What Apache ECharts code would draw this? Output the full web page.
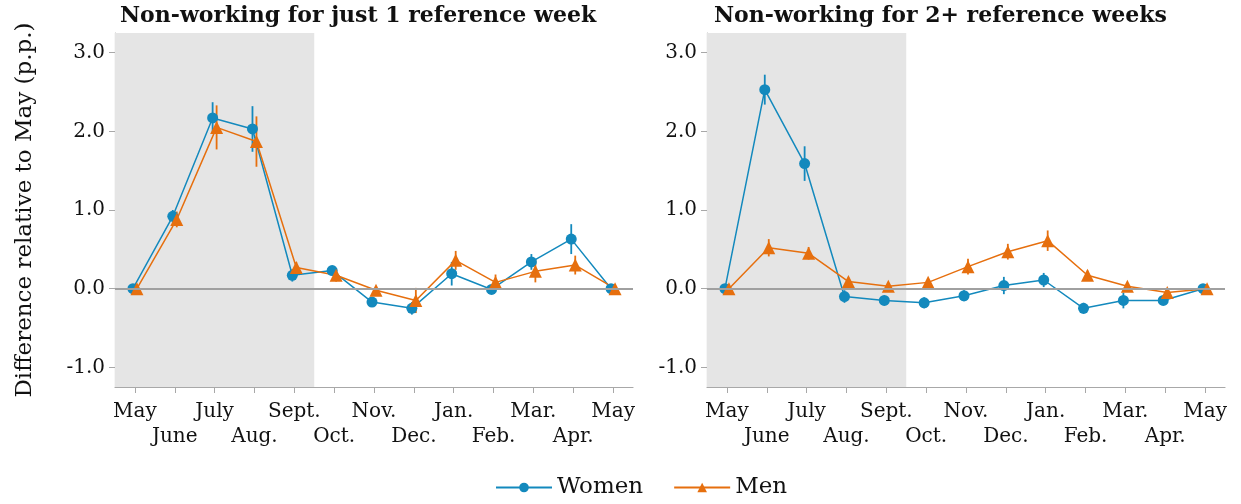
<!DOCTYPE html>
<html>
<head>
<meta charset="utf-8">
<script src="https://cdn.jsdelivr.net/npm/echarts@6/dist/echarts.min.js"></script>
<style>
  html, body { margin: 0; padding: 0; background: #fff; }
  #chart { width: 1241px; height: 504px; }
</style>
</head>
<body>
<div id="chart"></div>
<script>
const months = ["May", "June", "July", "Aug.", "Sept.", "Oct.", "Nov.", "Dec.", "Jan.", "Feb.", "Mar.", "Apr.", "May"];
const yTicks = [-1, 0, 1, 2, 3];

// panel 1: non-working for just 1 reference week
const women1 = [0, 0.92, 2.17, 2.03, 0.17, 0.23, -0.17, -0.25, 0.19, -0.01, 0.34, 0.63, 0];
const women1Err = [0, 0.08, 0.2, 0.29, 0.08, 0.05, 0.05, 0.08, 0.15, 0.05, 0.1, 0.19, 0];
const men1 = [0, 0.88, 2.05, 1.87, 0.27, 0.17, -0.02, -0.15, 0.36, 0.08, 0.22, 0.30, 0];
const men1Err = [0, 0.1, 0.28, 0.32, 0.07, 0.08, 0.05, 0.16, 0.12, 0.1, 0.14, 0.12, 0];

// panel 2: non-working for 2+ reference weeks
const women2 = [0, 2.53, 1.59, -0.10, -0.15, -0.18, -0.09, 0.04, 0.11, -0.25, -0.15, -0.15, 0];
const women2Err = [0, 0.19, 0.22, 0.08, 0.06, 0.07, 0.07, 0.11, 0.09, 0.07, 0.1, 0.05, 0];
const men2 = [0, 0.52, 0.45, 0.09, 0.03, 0.08, 0.28, 0.47, 0.61, 0.17, 0.03, -0.05, 0];
const men2Err = [0, 0.11, 0.08, 0.05, 0.04, 0.05, 0.1, 0.1, 0.13, 0.06, 0.04, 0.04, 0];

const shadeFrom = -0.5, shadeTo = 4.5;
const dodge = 0.05;

const blue = "#1389bd";
const orange = "#e66f0e";
const axisGray = "#a8a8a8";
const font = "DejaVu Serif";

function pts(vals, off) {
  return vals.map((v, i) => [i + off, v]);
}
function bars(vals, errs, off) {
  return vals.map((v, i) => [i + off, v - errs[i], v + errs[i]]);
}
function errSeries(data, color, idx) {
  return {
    type: "custom",
    xAxisIndex: idx, yAxisIndex: idx,
    silent: true,
    z: 3,
    encode: { x: 0, y: [1, 2] },
    data: data,
    renderItem: function (params, api) {
      const a = api.coord([api.value(0), api.value(1)]);
      const b = api.coord([api.value(0), api.value(2)]);
      return {
        type: "line",
        shape: { x1: a[0], y1: a[1], x2: b[0], y2: b[1] },
        style: { stroke: color, lineWidth: 1.8 }
      };
    }
  };
}

const grids = [
  { left: 115, width: 518, top: 33, height: 354 },
  { left: 707, width: 518, top: 33, height: 354 }
];

// hidden value axis carries the data, a category axis draws month ticks and labels
function dataXAxis(idx) {
  return {
    type: "value",
    gridIndex: idx,
    min: -0.5,
    max: 12.5,
    show: false,
    splitLine: { show: false }
  };
}
function monthXAxis(idx) {
  return {
    type: "category",
    gridIndex: idx,
    data: months,
    boundaryGap: true,
    position: "bottom",
    splitLine: { show: false },
    axisLine: { show: true, onZero: false, lineStyle: { color: axisGray, width: 1.2 } },
    axisTick: { show: true, alignWithLabel: true, interval: 0, length: 6, lineStyle: { color: axisGray } },
    axisLabel: {
      interval: 0,
      color: "#111",
      fontFamily: font,
      fontSize: 20,
      lineHeight: 25,
      margin: 12,
      formatter: function (v, i) {
        return i % 2 === 0 ? v : "\n" + v;
      }
    }
  };
}
function yAxisFor(idx) {
  const ax = {
    type: "value",
    gridIndex: idx,
    min: -1.25,
    max: 3.25,
    splitLine: { show: false },
    axisLine: { show: true, onZero: false, lineStyle: { color: axisGray, width: 1.2 } },
    axisTick: { show: true, customValues: yTicks, length: 6, lineStyle: { color: axisGray } },
    axisLabel: {
      customValues: yTicks,
      color: "#111",
      fontFamily: font,
      fontSize: 20,
      margin: 10,
      formatter: function (v) { return v.toFixed(1); }
    }
  };
  if (idx === 0) {
    ax.name = "Difference relative to May (p.p.)";
    ax.nameLocation = "middle";
    ax.nameGap = 78;
    ax.nameTextStyle = { color: "#111", fontFamily: font, fontSize: 23 };
  }
  return ax;
}

function backSeries(idx) {
  return {
    type: "line",
    xAxisIndex: idx, yAxisIndex: idx,
    data: [],
    silent: true,
    z: 1,
    markArea: {
      silent: true,
      itemStyle: { color: "#e5e5e5" },
      data: [[{ xAxis: shadeFrom }, { xAxis: shadeTo }]]
    },
    markLine: {
      silent: true,
      symbol: "none",
      label: { show: false },
      lineStyle: { color: "#a0a0a0", width: 2, type: "solid" },
      data: [{ yAxis: 0 }]
    }
  };
}

function lineSeries(name, data, color, symbol, size, idx) {
  return {
    name: name,
    type: "line",
    xAxisIndex: idx, yAxisIndex: idx,
    data: data,
    symbol: symbol,
    symbolSize: size,
    z: 4,
    lineStyle: { color: color, width: 1.5 },
    itemStyle: { color: color },
    emphasis: { disabled: true }
  };
}

const option = {
  animation: false,
  backgroundColor: "#fff",
  title: [
    { text: "Non-working for just 1 reference week", left: 115, top: 0,
      textStyle: { fontFamily: font, fontWeight: "bold", fontSize: 22, color: "#111" } },
    { text: "Non-working for 2+ reference weeks", left: 709, top: 0,
      textStyle: { fontFamily: font, fontWeight: "bold", fontSize: 22, color: "#111" } }
  ],
  legend: {
    bottom: 0,
    left: 490,
    itemWidth: 56,
    itemHeight: 12,
    itemGap: 30,
    textStyle: { fontFamily: font, fontSize: 23, color: "#111" },
    data: ["Women", "Men"]
  },
  grid: grids,
  xAxis: [dataXAxis(0), dataXAxis(1), monthXAxis(0), monthXAxis(1)],
  yAxis: [yAxisFor(0), yAxisFor(1)],
  series: [
    backSeries(0),
    backSeries(1),
    errSeries(bars(women1, women1Err, -dodge), blue, 0),
    errSeries(bars(men1, men1Err, dodge), orange, 0),
    errSeries(bars(women2, women2Err, -dodge), blue, 1),
    errSeries(bars(men2, men2Err, dodge), orange, 1),
    lineSeries("Women", pts(women1, -dodge), blue, "circle", 11, 0),
    lineSeries("Men", pts(men1, dodge), orange, "triangle", 13, 0),
    lineSeries("Women", pts(women2, -dodge), blue, "circle", 11, 1),
    lineSeries("Men", pts(men2, dodge), orange, "triangle", 13, 1)
  ]
};

const myChart = echarts.init(document.getElementById("chart"));
myChart.setOption(option);
</script>
</body>
</html>
